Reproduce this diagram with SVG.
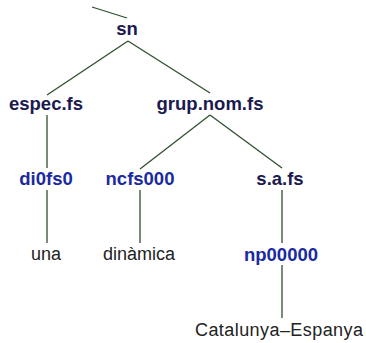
<svg xmlns="http://www.w3.org/2000/svg" width="366" height="343" viewBox="0 0 366 343">
<style>
.e{stroke:#2f4f2f;stroke-width:1.3;fill:none}
text{font-family:"Liberation Sans",Arial,sans-serif;text-anchor:middle}
.c{font-weight:bold;font-size:18.5px;fill:#1a1a50}
.t{font-weight:bold;font-size:18.5px;fill:#1a2aa0}
.w{font-size:18px;fill:#222}
</style>
<rect width="366" height="343" fill="#fff"/>
<g id="connectors">
<line class="e" x1="92" y1="7" x2="127" y2="18"/>
<line class="e" x1="128" y1="41" x2="47" y2="95"/>
<line class="e" x1="128" y1="41" x2="210" y2="93"/>
<line class="e" x1="47" y1="115" x2="47" y2="168"/>
<line class="e" x1="210" y1="115" x2="140" y2="169"/>
<line class="e" x1="210" y1="115" x2="282" y2="168"/>
<line class="e" x1="47" y1="190" x2="47" y2="243"/>
<line class="e" x1="140" y1="190" x2="140" y2="243"/>
<line class="e" x1="282" y1="190" x2="282" y2="243"/>
<line class="e" x1="282" y1="265" x2="282" y2="318"/>
</g>
<g id="sn"><text class="c" x="127" y="35">sn</text></g>
<g id="espec"><text class="c" x="46" y="110">espec.fs</text></g>
<g id="grup"><text class="c" x="210" y="110">grup.nom.fs</text></g>
<g id="di0fs0"><text class="t" x="46" y="185">di0fs0</text></g>
<g id="ncfs000"><text class="t" x="140" y="185">ncfs000</text></g>
<g id="safs"><text class="c" x="280" y="185">s.a.fs</text></g>
<g id="una"><text class="w" x="46" y="260">una</text></g>
<g id="dinamica"><text class="w" x="139" y="260">dinàmica</text></g>
<g id="np00000"><text class="t" x="281" y="261">np00000</text></g>
<g id="catalunya"><text class="w" x="279" y="336" textLength="168" lengthAdjust="spacing">Catalunya–Espanya</text></g>
</svg>
